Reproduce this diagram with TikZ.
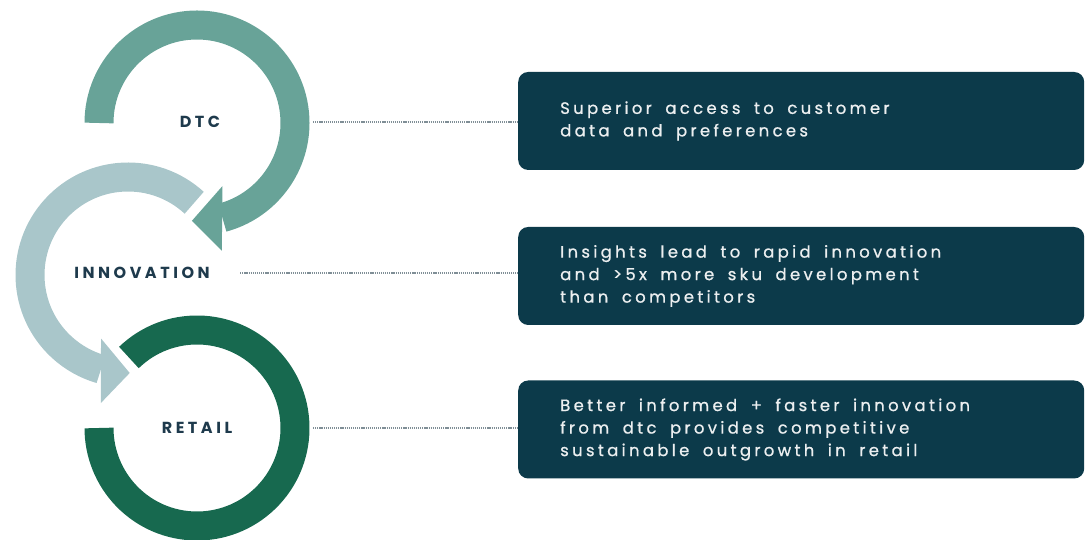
\documentclass[tikz,border=0pt]{standalone}
\usepackage{fontspec}
\setmainfont{Poppins}
\newfontfamily\boxfont[LetterSpace=20, FakeBold=0.8]{Poppins}
\newfontfamily\labelfont[LetterSpace=22]{Poppins}
\newcommand\boxtextfont{\boxfont\fontsize{16.5}{22.5}\selectfont}
\newcommand\wgap{\hspace{8pt}}
\usetikzlibrary{positioning,calc}
\definecolor{dtcteal}{HTML}{68A398}
\definecolor{innolight}{HTML}{A9C6CA}
\definecolor{retailgreen}{HTML}{17694F}
\definecolor{boxnavy}{HTML}{0C3A4A}
\definecolor{labelnavy}{HTML}{1E3A4C}
\definecolor{dotgray}{HTML}{7F8E96}

\begin{document}
\begin{tikzpicture}[x=1pt, y=1pt,
  band/.style={line width=29pt, draw=#1},
  stagelabel/.style={font=\labelfont\bfseries\fontsize{16}{16}\selectfont, text=labelnavy},
  infobox/.style={fill=boxnavy, rounded corners=10pt, text=white!92!boxnavy,
    font=\boxtextfont, align=left, text width=482pt, inner xsep=42pt,
    minimum height=98pt, anchor=west},
  dotline/.style={draw=dotgray, line width=1.3pt, dash pattern=on 1.2pt off 0.9pt}]
  \useasboundingbox (0,0) rectangle (1086,540);
  \coordinate (dtc) at (197,417);
  \coordinate (inno) at (128,265);
  \coordinate (ret) at (197,112);
  % rings
  \draw[band=retailgreen] ($(ret)+(134:98)$) arc[start angle=134, end angle=-180, radius=98];
  \draw[band=innolight] ($(inno)+(47.5:98)$) arc[start angle=47.5, end angle=254, radius=98];
  \fill[innolight] ($(inno)+(247:69)$) -- ($(inno)+(258:131)$) -- ($(inno)+(271:98)$) -- cycle;
  \draw[band=dtcteal] ($(dtc)+(180:98)$) arc[start angle=180, end angle=-75, radius=98];
  \fill[dtcteal] ($(dtc)+(-68:68)$) -- ($(dtc)+(-79:130)$) -- ($(dtc)+(-93:98)$) -- cycle;
  % labels
  \node[stagelabel] (dtclabel) at (200,418) {DTC};
  \node[stagelabel] (innolabel) at (142,267) {INNOVATION};
  \node[stagelabel] (retlabel) at (197,112) {RETAIL};
  % boxes
  \node[infobox] (dtcbox) at (518,419) {Superior \wgap access \wgap to \wgap customer\\data \wgap and \wgap preferences};
  \node[infobox] (innobox) at (518,264) {Insights \wgap lead \wgap to \wgap rapid \wgap innovation\\and \wgap >5x \wgap more \wgap sku \wgap development\\than \wgap competitors};
  \node[infobox] (retbox) at (518,110.5) {Better \wgap informed \wgap + \wgap faster \wgap innovation\\from \wgap dtc \wgap provides \wgap competitive\\sustainable \wgap outgrowth \wgap in \wgap retail};
  % dotted leaders
  \coordinate (dtcedge) at ($(dtc)+(116,1)$);
  \coordinate (retedge) at ($(ret)+(116,0)$);
  \draw[dotline] (dtcedge) -- (dtcedge -| dtcbox.west);
  \draw[dotline] ([xshift=27pt]innolabel.east) -- (innolabel.east -| innobox.west);
  \draw[dotline] (retedge) -- (retedge -| retbox.west);
\end{tikzpicture}
\end{document}
